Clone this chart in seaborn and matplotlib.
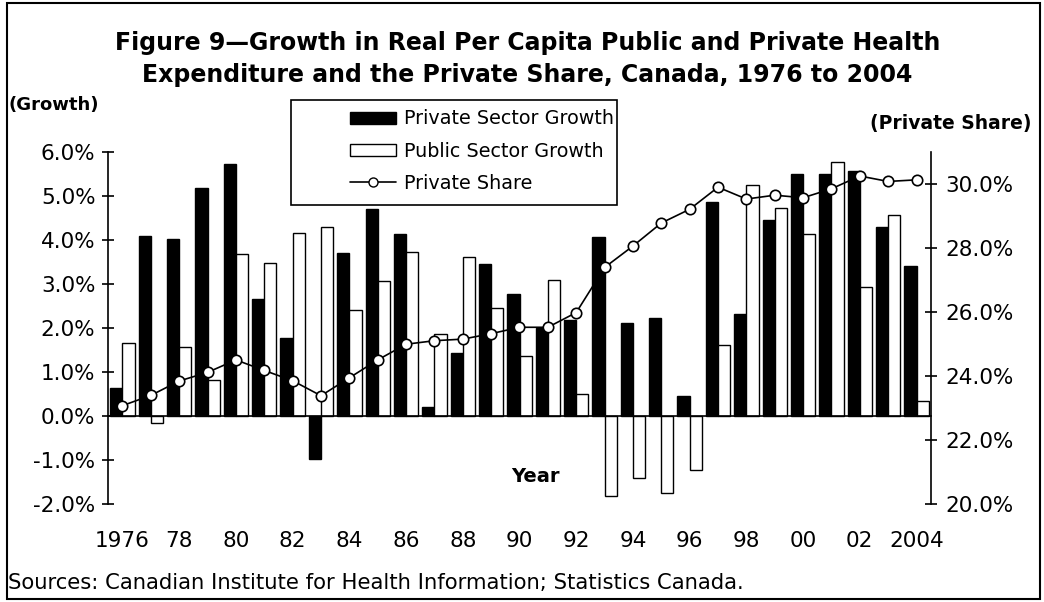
import numpy as np
import pandas as pd
import seaborn as sns
import matplotlib.pyplot as plt
from matplotlib.patches import Patch, Rectangle
from matplotlib.lines import Line2D

# data
years = list(range(1976, 2005))
private_growth = [0.62, 4.08, 4.01, 5.17, 5.72, 2.64, 1.77, -0.98, 3.69, 4.69,
                  4.12, 0.20, 1.42, 3.45, 2.77, 1.99, 2.17, 4.05, 2.10, 2.21,
                  0.45, 4.85, 2.30, 4.45, 5.49, 5.49, 5.57, 4.28, 3.40]
public_growth = [1.66, -0.17, 1.57, 0.81, 3.67, 3.48, 4.16, 4.28, 2.40, 3.05,
                 3.71, 1.85, 3.60, 2.44, 1.36, 3.08, 0.49, -1.84, -1.42, -1.76,
                 -1.23, 1.61, 5.24, 4.71, 4.12, 5.76, 2.92, 4.55, 0.32]
private_share = [23.06, 23.38, 23.83, 24.10, 24.49, 24.16, 23.84, 23.37, 23.93, 24.49,
                 24.98, 25.09, 25.14, 25.31, 25.51, 25.51, 25.97, 27.38, 28.05, 28.77,
                 29.20, 29.89, 29.52, 29.64, 29.56, 29.84, 30.24, 30.07, 30.12]
year_labels = ['1976', '78', '80', '82', '84', '86', '88', '90', '92', '94',
               '96', '98', '00', '02', '2004']
growth_ticks = [-2, -1, 0, 1, 2, 3, 4, 5, 6]
share_ticks = [20, 22, 24, 26, 28, 30]

n = len(years)
df = pd.DataFrame({'year': years * 2,
                   'sector': ['Private Sector Growth'] * n + ['Public Sector Growth'] * n,
                   'growth': private_growth + public_growth})

sns.set_theme(style='white')
plt.rcParams['font.family'] = ['DejaVu Sans']
plt.rcParams['text.color'] = 'black'
plt.rcParams['xtick.color'] = 'black'
plt.rcParams['ytick.color'] = 'black'
plt.rcParams['xtick.labelcolor'] = 'black'
plt.rcParams['ytick.labelcolor'] = 'black'

fig = plt.figure(figsize=(10.44, 6.02), dpi=100)
ax = fig.add_axes([108.3 / 1044, 1 - 503.5 / 602, 822.4 / 1044, 351.8 / 602])

sns.barplot(data=df, x='year', y='growth', hue='sector',
            palette={'Private Sector Growth': 'black', 'Public Sector Growth': 'white'},
            edgecolor='black', linewidth=1, width=0.86, gap=0, saturation=1,
            legend=False, ax=ax)

ax.set_xlim(-0.5, n - 0.5)
ax.set_ylim(-2, 6)
ax.set_yticks(growth_ticks)
ax.set_yticklabels([f'{v:.1f}%' for v in growth_ticks], fontsize=15.5, color='black')
ax.set_xlabel('')
ax.set_ylabel('')
ax.spines['top'].set_visible(False)
ax.spines['right'].set_visible(False)
ax.spines['bottom'].set_position(('data', 0))
for s in ['left', 'bottom']:
    ax.spines[s].set_linewidth(1.2)
    ax.spines[s].set_color('black')
ax.tick_params(axis='y', direction='inout', length=8.5, width=1.2, pad=5)

ax.set_xticks(np.arange(0, n, 2))
ax.set_xticklabels(year_labels, fontsize=15.5, color='black')
ax.set_xticks(np.arange(-0.5, n, 1), minor=True)
ax.tick_params(axis='x', which='major', length=0, pad=83)
ax.tick_params(axis='x', which='minor', direction='inout', length=10, width=1.2)

ax2 = ax.twinx()
sns.lineplot(x=np.arange(n), y=private_share, ax=ax2, color='black', linewidth=1.2,
             marker='o', markersize=7.5, markerfacecolor='white',
             markeredgecolor='black', markeredgewidth=1.2)
ax2.set_ylim(20, 31)
ax2.set_yticks(share_ticks)
ax2.set_yticklabels([f'{v:.1f}%' for v in share_ticks], fontsize=15.5, color='black')
for s in ['top', 'left', 'bottom']:
    ax2.spines[s].set_visible(False)
ax2.spines['right'].set_linewidth(1.2)
ax2.spines['right'].set_color('black')
ax2.tick_params(axis='y', direction='inout', length=8.5, width=1.2, pad=6)

# titles and notes
fig.text(0.505, 1 - 43 / 602, 'Figure 9\u2014Growth in Real Per Capita Public and Private Health',
         ha='center', va='center', fontsize=17, fontweight='bold', color='black')
fig.text(0.505, 1 - 75 / 602, 'Expenditure and the Private Share, Canada, 1976 to 2004',
         ha='center', va='center', fontsize=17, fontweight='bold', color='black')
fig.text(8 / 1044, 1 - 105 / 602, '(Growth)', ha='left', va='center',
         fontsize=13, fontweight='bold', color='black')
fig.text(1031 / 1044, 1 - 124 / 602, '(Private Share)', ha='right', va='center',
         fontsize=13.5, fontweight='bold', color='black')
fig.text(535 / 1044, 1 - 477 / 602, 'Year', ha='center', va='center',
         fontsize=14, fontweight='bold', color='black')
fig.text(8 / 1044, 1 - 583 / 602,
         'Sources: Canadian Institute for Health Information; Statistics Canada.',
         ha='left', va='center', fontsize=15.2, color='black')

# legend
handles = [Patch(facecolor='black', edgecolor='black'),
           Patch(facecolor='white', edgecolor='black', linewidth=1),
           Line2D([], [], color='black', linewidth=1.2, marker='o', markersize=6.5,
                  markerfacecolor='white', markeredgecolor='black')]
labels = ['Private Sector Growth', 'Public Sector Growth', 'Private Share']
leg = fig.legend(handles, labels, loc='upper left', bbox_to_anchor=(350 / 1044, 1 - 109.5 / 602),
                 frameon=False, borderpad=0, borderaxespad=0, handlelength=2.4,
                 handleheight=0.6, handletextpad=0.4, labelspacing=0.68, fontsize=13.8)
for t in leg.get_texts():
    t.set_color('black')
fig.add_artist(Rectangle((291 / 1044, 1 - 205 / 602), 326 / 1044, 105 / 602,
                         transform=fig.transFigure, fill=False, edgecolor='black', linewidth=1.2))

# outer frame
fig.add_artist(Rectangle((7 / 1044, 1 - 599 / 602), 1033 / 1044, 596 / 602,
                         transform=fig.transFigure, fill=False, edgecolor='black', linewidth=1.5))

fig.savefig('out.png', dpi=100)
